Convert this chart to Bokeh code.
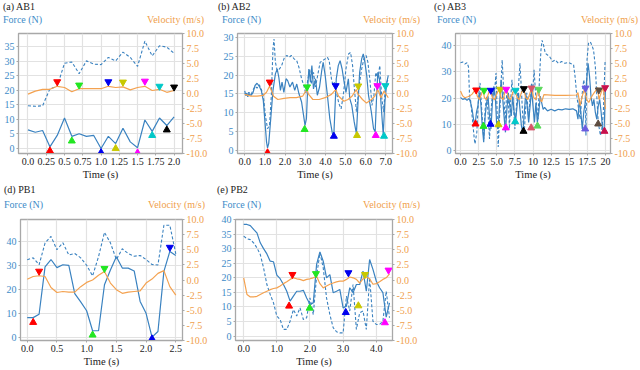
from bokeh.plotting import figure
from bokeh.models import Range1d, LinearAxis, ColumnDataSource, Div
from bokeh.layouts import column, row
from bokeh.embed import file_html
from bokeh.resources import INLINE

FONT = "Liberation Serif"
BLUE = "#3a82c0"
ORANGE = "#f4a250"
BLUE_TXT = "#3d8bc8"
ORANGE_TXT = "#f0a04c"
GRID = "#e2e2e2"
FRAME = "#a8a8a8"

# ---------------- shared tick data ----------------
vel_ticks = [-10, -7.5, -5, -2.5, 0, 2.5, 5, 7.5, 10]
vel_labels = ["-10.0", "-7.5", "-5.0", "-2.5", "0.0", "2.5", "5.0", "7.5", "10.0"]

# ---------------- (a) AB1 ----------------
a_t = [0.0, 0.1, 0.2, 0.3, 0.4, 0.5, 0.6, 0.7, 0.8, 0.9, 1.0, 1.1, 1.2, 1.3, 1.4, 1.5, 1.6, 1.7, 1.8, 1.9, 2.0]
a_solid = [6.4, 5.6, 6.2, 0.6, 4.5, 10.5, 4.2, 5.1, 4.2, 4.5, 0.0, 4.2, 1.7, 7.0, 2.3, 0.3, 9.8, 5.9, 10.5, 7.9, 10.9]
a_dashed = [14.7, 14.5, 14.7, 20.5, 21.4, 29.3, 29.7, 25.7, 30.1, 29.0, 28.8, 31.3, 30.1, 33.1, 31.3, 28.2, 36.9, 31.8, 35.3, 34.8, 32.7]
a_vel = [-0.1, 0.4, 0.7, 0.7, 1.2, 1.0, 0.3, 0.8, 0.8, 0.8, 0.8, 1.2, 1.0, 1.1, 0.6, 1.0, 1.2, 0.5, 0.7, 0.2, 0.5]
a_up_t = [0.3, 0.6, 1.0, 1.2, 1.5, 1.7, 1.9]
a_up_f = [-0.8, 2.6, -1.4, 0.0, -1.5, 4.5, 6.4]
a_dn_t = [0.4, 0.7, 1.1, 1.3, 1.6, 1.8, 2.0]
a_dn_v = [1.95, 1.4, 1.95, 1.9, 2.05, 1.2, 1.07]
a_xticks = [0.0, 0.25, 0.5, 0.75, 1.0, 1.25, 1.5, 1.75, 2.0]
a_xlabels = ["0.0", "0.25", "0.5", "0.75", "1.0", "1.25", "1.5", "1.75", "2.0"]
a_yticks = [0, 5, 10, 15, 20, 25, 30, 35]

# ---------------- (b) AB2 ----------------
b_solid_t = [0.0, 0.05, 0.1, 0.15, 0.2, 0.31, 0.41, 0.51, 0.61, 0.72, 0.82, 0.92, 0.99, 1.08, 1.13, 1.19, 1.29, 1.40, 1.52, 1.61,
             1.69, 1.77, 1.85, 1.94, 2.05, 2.13, 2.24, 2.37, 2.48, 2.58, 2.69, 2.82, 2.93, 2.99, 3.06, 3.12, 3.18, 3.26, 3.33, 3.41,
             3.51, 3.60, 3.71, 3.82, 3.89, 3.99, 4.10, 4.22, 4.35, 4.42, 4.47, 4.54, 4.64, 4.73, 4.83, 4.93, 5.02, 5.14, 5.21, 5.31,
             5.43, 5.54, 5.62, 5.70, 5.80, 5.88, 5.96, 6.05, 6.14, 6.28, 6.39, 6.47, 6.53, 6.60, 6.68, 6.76, 6.87, 6.95, 7.05, 7.12]
b_solid = [15.8, 14.5, 15.2, 14.2, 15.0, 14.6, 15.3, 17.2, 17.8, 17.0, 15.9, 13.2, 8.4, 2.2, 0.6, 1.8, 8.4, 15.9, 20.3, 21.6,
           19.4, 15.9, 18.1, 15.4, 19.0, 18.5, 16.8, 18.1, 15.9, 17.6, 15.0, 12.8, 8.8, 6.6, 8.4, 16.3, 21.6, 18.1, 22.5, 16.3,
           19.0, 14.6, 16.8, 21.2, 23.4, 19.9, 14.6, 8.4, 4.4, 4.1, 10.2, 19.0, 22.5, 23.8, 21.6, 18.1, 15.4, 19.0, 13.7, 11.9,
           7.5, 4.4, 12.8, 20.7, 24.3, 25.6, 23.4, 19.9, 14.6, 10.2, 5.7, 4.9, 12.8, 20.7, 19.0, 12.4, 4.1, 12.8, 18.1, 19.9]
b_dashed_t = [0.0, 0.1, 0.2, 0.31, 0.41, 0.51, 0.61, 0.72, 0.82, 0.92, 1.02, 1.13, 1.23, 1.32, 1.40, 1.45, 1.52, 1.61, 1.72, 1.83,
              1.97, 2.09, 2.20, 2.31, 2.45, 2.58, 2.69, 2.82, 2.93, 3.03, 3.12, 3.22, 3.30, 3.41, 3.51, 3.60, 3.74, 3.86, 3.99, 4.10,
              4.19, 4.30, 4.38, 4.45, 4.58, 4.67, 4.78, 4.89, 5.02, 5.15, 5.25, 5.35, 5.44, 5.54, 5.60, 5.70, 5.80, 5.91, 6.02, 6.11,
              6.22, 6.31, 6.41, 6.50, 6.60, 6.70, 6.80, 6.89, 6.98, 7.12]
b_dashed = [15.2, 14.6, 15.4, 14.8, 16.0, 17.0, 16.5, 17.4, 16.2, 14.6, 9.3, 5.7, 6.6, 14.6, 26.9, 29.6, 23.4, 21.2, 21.6, 22.5,
            24.7, 25.2, 24.7, 25.2, 24.3, 23.8, 22.0, 19.0, 17.2, 15.0, 18.5, 21.6, 17.6, 20.7, 16.8, 19.4, 23.4, 23.8, 24.3, 24.7,
            23.8, 19.0, 17.2, 18.1, 14.6, 12.4, 11.0, 14.6, 21.6, 25.6, 26.0, 22.5, 16.3, 10.2, 13.2, 18.1, 21.6, 24.3, 25.2, 23.4,
            18.1, 11.9, 14.6, 20.7, 19.0, 22.5, 13.7, 10.2, 17.2, 19.0]
b_vel_t = [0.0, 0.31, 0.61, 0.92, 1.08, 1.23, 1.33, 1.43, 1.64, 1.95, 2.25, 2.56, 2.87, 3.07, 3.17, 3.38, 3.69, 3.99, 4.30, 4.51,
           4.66, 4.92, 5.12, 5.32, 5.53, 5.63, 5.84, 6.04, 6.25, 6.45, 6.60, 6.76, 6.91, 7.12]
b_vel = [-0.15, -0.45, -0.45, -0.3, 0.2, 1.2, 0.4, -0.45, -1.0, -0.8, -0.7, -0.7, -0.45, 0.65, -0.15, -1.0, -1.0, -0.7, -0.15, 0.65,
         -0.45, -1.3, -1.0, -0.45, 0.65, -0.15, -1.0, -1.6, -1.1, -0.45, 0.65, -0.7, 0.4, -0.7]
b_up_t = [1.13, 2.97, 4.42, 5.57, 6.50, 6.91]
b_up_f = [-0.7, 5.5, 3.7, 3.9, 3.9, 3.7]
b_dn_t = [1.24, 3.09, 4.51, 5.63, 6.58, 6.98]
b_dn_v = [1.9, 1.1, 1.3, 1.25, 1.3, 1.3]
b_xticks = [0, 1, 2, 3, 4, 5, 6, 7]
b_xlabels = ["0.0", "1.0", "2.0", "3.0", "4.0", "5.0", "6.0", "7.0"]
b_yticks = [0, 5, 10, 15, 20, 25, 30]

# ---------------- (c) AB3 ----------------
c_solid_t = [0.0, 0.3, 0.6, 0.9, 1.2, 1.4, 1.6, 1.8, 2.0, 2.2, 2.4, 2.6, 2.8, 3.0, 3.2, 3.4, 3.6, 3.8, 4.0, 4.2,
             4.4, 4.6, 4.8, 5.0, 5.2, 5.4, 5.6, 5.8, 6.0, 6.2, 6.4, 6.6, 6.8, 7.0, 7.2, 7.4, 7.6, 7.8, 8.0, 8.2,
             8.4, 8.6, 8.8, 9.0, 9.2, 9.4, 9.6, 9.8, 10.0, 10.2, 10.4, 10.6, 10.8, 11.0, 11.2, 11.4, 11.6, 12.0, 12.5, 13.0,
             13.5, 14.0, 14.5, 15.0, 15.5, 16.0, 16.2, 16.4, 16.6, 16.8, 17.0, 17.2, 17.4, 17.6, 17.8, 18.0, 18.2, 18.4, 18.6, 18.8,
             19.0, 19.2, 19.4, 19.6, 19.8, 20.0]
c_solid = [20.2, 19.5, 19.8, 19.2, 19.8, 18.2, 15.7, 11.9, 9.4, 14.5, 17.0, 22.0, 18.2, 9.4, 3.1, 13.2, 18.2, 20.7, 13.2, 8.2,
           18.2, 24.5, 20.7, 9.4, 8.2, 18.2, 27.0, 20.7, 13.2, 6.9, 15.7, 22.0, 17.0, 13.2, 20.7, 14.5, 11.3, 17.0, 22.0, 15.7,
           9.4, 6.9, 14.5, 22.0, 17.0, 10.7, 17.0, 23.3, 17.0, 10.7, 18.2, 10.7, 14.5, 20.7, 18.2, 15.7, 16.4, 15.1, 15.7, 15.1,
           15.7, 15.5, 15.9, 15.7, 15.9, 15.1, 11.9, 19.5, 14.5, 8.2, 14.5, 18.2, 27.0, 33.3, 28.3, 20.7, 17.0, 19.5, 14.5, 11.9,
           17.0, 19.5, 14.5, 8.2, 6.9, 24.5]
c_dashed_t = [0.0, 0.3, 0.6, 0.9, 1.1, 1.25, 1.4, 1.6, 1.9, 2.0, 2.25, 2.5, 2.7, 2.95, 3.2, 3.4, 3.6, 3.75, 4.0, 4.2,
              4.45, 4.65, 4.9, 5.05, 5.2, 5.35, 5.6, 5.75, 5.95, 6.15, 6.4, 6.6, 6.75, 6.95, 7.1, 7.3, 7.5, 7.75, 8.0, 8.2,
              8.4, 8.6, 8.8, 8.95, 9.15, 9.4, 9.6, 9.8, 9.95, 10.15, 10.35, 10.5, 10.7, 10.9, 11.1, 11.25, 11.45, 11.7, 12.0, 12.3,
              12.7, 13.05, 13.5, 13.95, 14.4, 14.9, 15.35, 15.6, 15.8, 16.05, 16.3, 16.5, 16.75, 17.0, 17.2, 17.3, 17.45, 17.65, 17.9, 18.1,
              18.35, 18.6, 18.8, 19.0, 19.3, 19.5, 19.7, 19.95]
c_dashed = [33.5, 33.8, 33.0, 33.5, 32.0, 20.7, 18.9, 13.2, 4.4, 2.5, 6.9, 20.7, 25.8, 14.5, 4.4, 15.7, 20.7, 16.4, 4.4, 14.5,
            23.3, 20.7, 29.6, 14.5, 1.3, 10.7, 25.8, 34.6, 23.3, 10.7, 23.3, 19.5, 8.2, 20.7, 27.0, 17.0, 8.2, 18.2, 24.5, 33.3,
            23.3, 11.9, 6.9, 14.5, 22.0, 11.9, 20.7, 25.8, 22.0, 30.8, 22.0, 17.0, 11.9, 28.3, 38.4, 42.1, 40.3, 37.1, 36.5, 35.8,
            34.0, 34.6, 33.3, 34.0, 33.3, 33.6, 33.0, 32.7, 28.3, 20.7, 15.7, 11.9, 20.7, 27.0, 23.3, 5.7, 34.6, 40.9, 41.5, 40.3,
            38.4, 32.0, 20.7, 10.7, 5.7, 8.2, 14.5, 34.6]
c_vel_t = [0.0, 0.3, 0.6, 1.0, 1.3, 1.6, 1.9, 2.1, 2.3, 2.6, 2.9, 3.1, 3.3, 3.6, 3.9, 4.1, 4.4, 4.7, 5.0, 5.3,
           5.6, 5.9, 6.1, 6.3, 6.6, 6.9, 7.2, 7.5, 7.8, 8.1, 8.4, 8.7, 9.0, 9.3, 9.6, 9.8, 10.1, 10.4, 10.7, 11.0,
           11.2, 11.5, 13.0, 14.5, 16.0, 16.2, 16.5, 16.8, 17.1, 17.4, 17.7, 18.0, 18.3, 18.6, 18.9, 19.1, 19.4, 19.7, 20.0]
c_vel = [0.4, -0.4, -0.7, -0.55, -0.4, -0.1, 0.4, 0.8, -0.4, -1.0, -0.1, 0.7, -0.7, -1.0, 0.15, 0.7, -0.7, -1.05, -0.1, 0.7,
         -0.7, -1.0, 0.15, 0.8, -0.7, -1.0, 0.15, 0.7, -0.7, -1.0, 0.15, 0.8, -0.7, -1.0, 0.15, 0.9, -0.7, -1.0, 0.7, -1.0,
         -1.4, -0.2, -0.3, -0.3, -0.25, 0.15, -2.0, -0.4, 0.7, -1.0, -1.5, -0.7, -0.1, 0.4, 1.0, -1.0, 0.15, 1.0, -2.6]
c_up_t = [2.07, 3.17, 4.14, 5.24, 6.25, 7.54, 8.69, 9.75, 10.62, 17.2, 18.99, 19.86]
c_up_f = [10.1, 9.2, 10.0, 9.8, 8.6, 11.0, 7.3, 8.6, 9.3, 8.2, 10.1, 7.3]
c_dn_t = [2.16, 3.26, 4.18, 5.47, 6.3, 7.59, 8.74, 9.79, 10.8, 17.24, 19.08, 19.95]
c_dn_v = [0.58, 0.53, 0.53, 0.7, 0.7, 0.53, 0.8, 0.9, 0.7, 0.9, 0.58, 0.96]
c_xticks = [0, 2.5, 5, 7.5, 10, 12.5, 15, 17.5, 20]
c_xlabels = ["0.0", "2.5", "5.0", "7.5", "10", "12.5", "15", "17.5", "20"]
c_yticks = [0, 10, 20, 30, 40]

# ---------------- (d) PB1 ----------------
d_t = [0.0, 0.1, 0.2, 0.3, 0.4, 0.5, 0.6, 0.7, 0.8, 0.9, 1.0, 1.1, 1.2, 1.3, 1.4, 1.5, 1.6, 1.7, 1.8, 1.9, 2.0, 2.1, 2.2, 2.3, 2.4, 2.5]
d_solid = [8.2, 8.2, 9.6, 29.5, 32.6, 29.2, 30.4, 30.1, 18.3, 14.8, 11.1, 2.7, 2.7, 22.0, 28.2, 33.8, 29.0, 29.0, 27.8, 15.0, 10.0, 0.0, 2.4, 27.6, 36.0, 34.3]
d_dashed = [32.5, 33.3, 30.4, 39.5, 42.3, 36.7, 39.6, 34.5, 35.1, 33.3, 30.2, 25.7, 33.8, 44.0, 39.6, 32.6, 37.1, 35.1, 34.0, 34.3, 32.6, 30.5, 30.3, 47.0, 47.0, 35.0]
d_vel = [0.13, 0.58, 0.7, 0.58, -1.24, -2.07, -1.9, -2.0, -2.0, -1.1, -0.4, 0.0, 0.8, 1.4, -0.5, -1.6, -2.2, -2.0, -1.9, -1.8, -0.5, 0.15, 1.1, 1.55, -1.1, -2.5]
d_up_t = [0.1, 1.1, 2.1]
d_up_f = [6.2, 0.9, -0.7]
d_dn_t = [0.2, 1.3, 2.4]
d_dn_v = [1.45, 1.9, 5.4]
d_xticks = [0.0, 0.5, 1.0, 1.5, 2.0, 2.5]
d_xlabels = ["0.0", "0.5", "1.0", "1.5", "2.0", "2.5"]
d_yticks = [0, 10, 20, 30, 40]

# ---------------- (e) PB2 ----------------
e_t = [0.0, 0.1, 0.2, 0.3, 0.4, 0.5, 0.6, 0.7, 0.8, 0.9, 1.0, 1.1, 1.2, 1.3, 1.4, 1.5, 1.6, 1.7, 1.8, 1.9, 2.0, 2.1, 2.2,
       2.3, 2.4, 2.5, 2.6, 2.7, 2.8, 2.9, 3.0, 3.1, 3.2, 3.3, 3.4, 3.5, 3.6, 3.7, 3.8, 3.9, 4.0, 4.1, 4.2, 4.3, 4.4]
e_solid = [38.3, 38.3, 37.9, 36.6, 35.4, 32.0, 30.0, 28.2, 25.7, 25.5, 20.9, 19.7, 17.7, 15.4, 12.0, 13.7, 15.4, 15.4, 15.7, 13.1,
           10.9, 11.4, 24.6, 28.9, 25.7, 20.0, 21.1, 14.9, 15.4, 16.0, 9.7, 10.3, 16.6, 14.9, 17.7, 17.7, 22.3, 15.4, 26.3, 22.9,
           18.9, 16.6, 14.9, 6.5, 11.4]
e_dashed = [34.3, 33.4, 33.1, 32.0, 30.3, 28.0, 23.4, 17.7, 14.3, 11.4, 6.9, 5.7, 2.3, 2.3, 5.1, 9.1, 6.9, 9.7, 5.7, 6.3,
            13.1, 7.4, 20.6, 28.6, 23.4, 13.1, 7.4, 2.9, 1.5, 1.1, 1.1, 13.7, 8.6, 17.7, 2.3, 8.0, 8.6, 2.3, 20.0, 5.1,
            4.0, 4.0, 5.1, 15.4, 6.3]
e_vel = [0.36, -2.4, -2.8, -2.8, -2.7, -2.4, -2.1, -1.85, -1.6, -1.4, -1.3, -1.0, -0.6, -0.3, 0.1, 0.36, 0.2, 0.1, -0.1, 0.1,
         0.2, 0.36, 0.6, -0.6, -1.3, -1.0, -0.7, -0.5, -0.3, -0.2, -0.2, 0.1, 0.5, 0.36, 0.1, -0.5, 0.2, 0.5, 0.2, -0.7,
         -0.6, -0.3, 0.1, 0.36, 1.0]
e_up_t = [1.37, 1.99, 3.08, 3.46, 4.26]
e_up_f = [10.3, 9.6, 8.1, 10.4, 4.6]
e_dn_t = [1.47, 2.18, 3.16, 3.66, 4.37]
e_dn_v = [0.91, 1.05, 1.2, 0.91, 1.63]
e_xticks = [0, 1, 2, 3, 4]
e_xlabels = ["0.0", "1.0", "2.0", "3.0", "4.0"]
e_yticks = [0, 5, 10, 15, 20, 25, 30, 35, 40]

marker_colors = ["#ff0000", "#22e622", "#0000ee", "#c8c800", "#ff00ff", "#00c8c8", "#000000",
                 "#d65468", "#5ad85a", "#6a5ce0", "#5e4c40", "#c8104c"]


def header(title, w, h, title_left, title_top, force_left, force_top, vel_right):
    html = (
        f'<div style="position:relative;width:{w}px;height:{h}px;'
        f"font-family:'Liberation Serif',serif;font-size:10px;line-height:12px;white-space:nowrap;\">"
        f'<span style="position:absolute;left:{title_left}px;top:{title_top}px;color:#222222;">{title}</span>'
        f'<span style="position:absolute;left:{force_left}px;top:{force_top}px;color:{BLUE_TXT};">Force (N)</span>'
        f'<span style="position:absolute;right:{vel_right}px;top:{force_top}px;color:{ORANGE_TXT};">Velocity (m/s)</span>'
        f'</div>'
    )
    return Div(text=html, width=w, height=h, margin=(0, 0, 0, 0))


def panel(solid_t, solid, dashed_t, dashed, vel_t, vel, up_t, up_f, dn_t, dn_v,
          xr, yr, xticks, xlabels, yticks, w, h, bl, br):
    p = figure(width=w, height=h, x_range=Range1d(*xr), y_range=Range1d(*yr),
               output_backend="svg", toolbar_location=None,
               min_border_left=bl, min_border_right=br, min_border_top=6, min_border_bottom=28)
    p.extra_y_ranges = {"vel": Range1d(-10, 10)}
    p.background_fill_color = "white"
    p.outline_line_color = FRAME
    p.outline_line_width = 1.3

    rax = LinearAxis(y_range_name="vel", ticker=vel_ticks,
                     major_label_overrides=dict(zip(vel_ticks, vel_labels)))
    p.add_layout(rax, "right")

    xa = p.xaxis[0]
    xa.ticker = xticks
    xa.major_label_overrides = dict(zip(xticks, xlabels))
    xa.axis_label = "Time (s)"
    xa.axis_label_text_font = FONT
    xa.axis_label_text_font_style = "normal"
    xa.axis_label_text_font_size = "10.5px"
    xa.axis_label_text_color = "#222222"
    xa.axis_label_standoff = 1
    xa.major_label_text_color = "#222222"

    la = p.left[0]
    la.ticker = yticks
    la.major_label_text_color = BLUE_TXT
    rax.major_label_text_color = ORANGE_TXT

    for ax in (xa, la, rax):
        ax.major_label_text_font = FONT
        ax.major_label_text_font_size = "10px"
        ax.axis_line_color = FRAME
        ax.major_tick_line_color = FRAME
        ax.major_tick_out = 2
        ax.major_tick_in = 0
        ax.minor_tick_line_color = None
        ax.major_label_standoff = 2

    p.xgrid.ticker = xticks
    p.ygrid.ticker = yticks
    p.xgrid.grid_line_color = GRID
    p.ygrid.grid_line_color = GRID
    p.xgrid.grid_line_width = 1.2
    p.ygrid.grid_line_width = 1.2

    p.line(dashed_t, dashed, line_color=BLUE, line_width=1.1, line_dash="3 2")
    p.line(solid_t, solid, line_color=BLUE, line_width=1.2)
    p.line(vel_t, vel, line_color=ORANGE, line_width=1.2, y_range_name="vel")

    src_up = ColumnDataSource(dict(x=up_t, y=up_f, c=marker_colors[:len(up_t)]))
    p.scatter("x", "y", source=src_up, marker="triangle", size=7, fill_color="c", line_color="c")
    src_dn = ColumnDataSource(dict(x=dn_t, y=dn_v, c=marker_colors[:len(dn_t)]))
    p.scatter("x", "y", source=src_dn, marker="inverted_triangle", size=7, fill_color="c", line_color="c",
              y_range_name="vel")
    return p


HD1, HD2 = 27, 31
F1, F2 = 182 - HD1, 187 - HD2
pa = panel(a_t, a_solid, a_t, a_dashed, a_t, a_vel, a_up_t, a_up_f, a_dn_t, a_dn_v,
           (-0.13, 2.115), (-1.7, 39.5), a_xticks, a_xlabels, a_yticks, 210, F1, 18, 27)
pb = panel(b_solid_t, b_solid, b_dashed_t, b_dashed, b_vel_t, b_vel, b_up_t, b_up_f, b_dn_t, b_dn_v,
           (-0.36, 7.33), (-0.9, 31.05), b_xticks, b_xlabels, b_yticks, 210, F1, 27, 25)
pc = panel(c_solid_t, c_solid, c_dashed_t, c_dashed, c_vel_t, c_vel, c_up_t, c_up_f, c_dn_t, c_dn_v,
           (-0.69, 20.69), (-1.2, 44.7), c_xticks, c_xlabels, c_yticks, 218, F1, 35, 28)
pd_ = panel(d_t, d_solid, d_t, d_dashed, d_t, d_vel, d_up_t, d_up_f, d_dn_t, d_dn_v,
            (-0.113, 2.613), (-1.4, 49.4), d_xticks, d_xlabels, d_yticks, 210, F2, 20, 28)
pe = panel(e_t, e_solid, e_t, e_dashed, e_t, e_vel, e_up_t, e_up_f, e_dn_t, e_dn_v,
           (-0.247, 4.49), (-1.5, 40.0), e_xticks, e_xlabels, e_yticks, 210, F2, 25, 25)

ha = header("(a) AB1", 210, HD1, 3, 1, 3, 14, 6)
hb = header("(b) AB2", 210, HD1, 8, 1, 12, 14, 0)
hc = header("(c) AB3", 218, HD1, 14, 1, 17, 14, 0)
hd = header("(d) PB1", 210, HD2, 4, 2, 4, 17, 5)
he = header("(e) PB2", 210, HD2, 7, 2, 12, 17, 0)

layout = column(
    row(column(ha, pa), column(hb, pb), column(hc, pc)),
    row(column(hd, pd_), column(he, pe)),
)
open("out.html", "w").write(file_html(layout, INLINE))
